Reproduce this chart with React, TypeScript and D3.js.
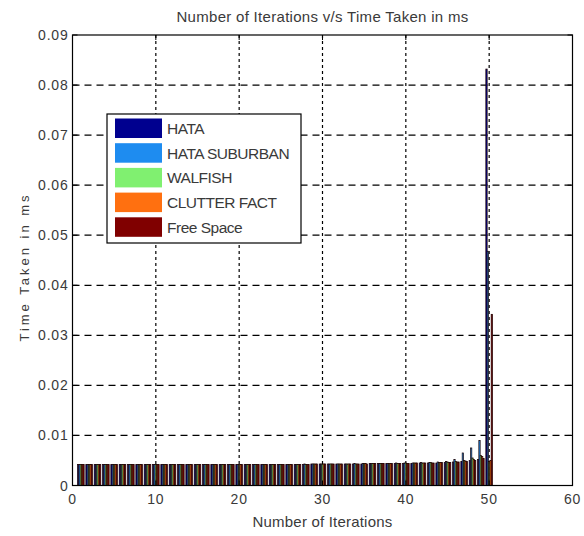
import React from "react";
import * as d3 from "d3";

const iterations = d3.range(1, 51);
const seriesNames = ["HATA", "HATA SUBURBAN", "WALFISH", "CLUTTER FACT", "Free Space"];
const seriesColors = ["#00008f", "#1e8cf0", "#80f070", "#ff7010", "#800000"];

const hata = [
  0.0042, 0.0042, 0.0042, 0.0042, 0.0042, 0.0042, 0.0042, 0.0042, 0.0042, 0.0042,
  0.0042, 0.0042, 0.0042, 0.0042, 0.0042, 0.0042, 0.0042, 0.0042, 0.0042, 0.0042,
  0.0042, 0.0042, 0.0042, 0.0042, 0.0042, 0.0042, 0.0042, 0.0042, 0.0043, 0.0043,
  0.0043, 0.0043, 0.0043, 0.0043, 0.0043, 0.0044, 0.0044, 0.0044, 0.0044, 0.0044,
  0.0044, 0.0045, 0.0045, 0.0045, 0.0046, 0.0047, 0.0048, 0.005, 0.0052, 0.0832,
];
const hataSuburban = [
  0.0042, 0.0042, 0.0042, 0.0042, 0.0042, 0.0042, 0.0042, 0.0042, 0.0042, 0.0042,
  0.0042, 0.0042, 0.0042, 0.0042, 0.0042, 0.0042, 0.0042, 0.0042, 0.0042, 0.0042,
  0.0042, 0.0042, 0.0042, 0.0042, 0.0042, 0.0042, 0.0042, 0.0043, 0.0043, 0.0043,
  0.0043, 0.0043, 0.0043, 0.0044, 0.0044, 0.0044, 0.0044, 0.0044, 0.0045, 0.0045,
  0.0045, 0.0046, 0.0046, 0.0047, 0.0048, 0.0052, 0.0065, 0.0075, 0.009, 0.0468,
];
const walfish = [
  0.0042, 0.0042, 0.0042, 0.0042, 0.0042, 0.0042, 0.0042, 0.0042, 0.0042, 0.0042,
  0.0042, 0.0042, 0.0042, 0.0042, 0.0042, 0.0042, 0.0042, 0.0042, 0.0042, 0.0042,
  0.0042, 0.0042, 0.0042, 0.0042, 0.0042, 0.0042, 0.0042, 0.0042, 0.0043, 0.0043,
  0.0043, 0.0043, 0.0043, 0.0043, 0.0044, 0.0044, 0.0044, 0.0044, 0.0044, 0.0045,
  0.0045, 0.0045, 0.0046, 0.0046, 0.0047, 0.0048, 0.005, 0.0055, 0.006, 0.0048,
];
const clutterFact = [
  0.0042, 0.0042, 0.0042, 0.0042, 0.0042, 0.0042, 0.0042, 0.0042, 0.0042, 0.0042,
  0.0042, 0.0042, 0.0042, 0.0042, 0.0042, 0.0042, 0.0042, 0.0042, 0.0042, 0.0042,
  0.0042, 0.0042, 0.0042, 0.0042, 0.0042, 0.0042, 0.0042, 0.0042, 0.0043, 0.0043,
  0.0043, 0.0043, 0.0043, 0.0043, 0.0044, 0.0044, 0.0044, 0.0044, 0.0044, 0.0044,
  0.0045, 0.0045, 0.0045, 0.0046, 0.0046, 0.0047, 0.0049, 0.0052, 0.0058, 0.005,
];
const freeSpace = [
  0.0042, 0.0042, 0.0042, 0.0042, 0.0042, 0.0042, 0.0042, 0.0042, 0.0042, 0.0042,
  0.0042, 0.0042, 0.0042, 0.0042, 0.0042, 0.0042, 0.0042, 0.0042, 0.0042, 0.0042,
  0.0042, 0.0042, 0.0042, 0.0042, 0.0042, 0.0042, 0.0042, 0.0042, 0.0043, 0.0043,
  0.0043, 0.0043, 0.0043, 0.0043, 0.0043, 0.0044, 0.0044, 0.0044, 0.0044, 0.0044,
  0.0045, 0.0045, 0.0045, 0.0046, 0.0046, 0.0047, 0.0048, 0.005, 0.0054, 0.0342,
];
const allSeries = [hata, hataSuburban, walfish, clutterFact, freeSpace];

const xTicks = [0, 10, 20, 30, 40, 50, 60];
const yTicks = [0, 0.01, 0.02, 0.03, 0.04, 0.05, 0.06, 0.07, 0.08, 0.09];

const titleText = "Number of Iterations v/s Time Taken in ms";
const xLabelText = "Number of Iterations";
const yLabelText = "Time Taken in ms";

export default function App() {
  const W = 584;
  const H = 536;
  const left = 72.5;
  const right = 572.5;
  const top = 35;
  const bottom = 485.5;

  const x = d3.scaleLinear().domain([0, 60]).range([left, right]);
  const y = d3.scaleLinear().domain([0, 0.09]).range([bottom, top]);

  const groupWidth = 0.8;
  const nS = allSeries.length;
  const barW = groupWidth / nS;

  const font = "'Liberation Sans', Arial, sans-serif";
  const textFill = "#3a3a3a";

  const legendX = 107;
  const legendY = 114;
  const legendW = 194;
  const legendH = 129;
  const rowH = 24.7;

  return (
    <svg
      width={W}
      height={H}
      style={{ position: "absolute", left: 0, top: 0, background: "#fff" }}
      fontFamily={font}
    >
      <rect x={0} y={0} width={W} height={H} fill="#fff" />
      {/* grid */}
      {xTicks.slice(1, -1).map((t) => (
        <line
          key={"gx" + t}
          x1={x(t)}
          x2={x(t)}
          y1={top}
          y2={bottom}
          stroke="#000"
          strokeWidth={1.2}
          strokeDasharray="3,3"
        />
      ))}
      {yTicks.slice(1, -1).map((t) => (
        <line
          key={"gy" + t}
          x1={left}
          x2={right}
          y1={y(t)}
          y2={y(t)}
          stroke="#000"
          strokeWidth={1.2}
          strokeDasharray="7,5"
        />
      ))}
      {/* bars */}
      {allSeries.map((vals, si) =>
        vals.map((v, i) => {
          const it = iterations[i];
          const x0 = x(it - groupWidth / 2 + si * barW);
          const x1 = x(it - groupWidth / 2 + (si + 1) * barW);
          return (
            <rect
              key={si + "-" + i}
              x={x0}
              y={y(v)}
              width={x1 - x0}
              height={y(0) - y(v)}
              fill={seriesColors[si]}
              stroke="#1a0000"
              strokeWidth={0.7}
            />
          );
        })
      )}
      {/* axes box */}
      <rect x={left} y={top} width={right - left} height={bottom - top} fill="none" stroke="#000" strokeWidth={1.2} />
      {xTicks.map((t) => (
        <g key={"xt" + t}>
          <line x1={x(t)} x2={x(t)} y1={bottom} y2={bottom - 5} stroke="#000" />
          <line x1={x(t)} x2={x(t)} y1={top} y2={top + 5} stroke="#000" />
          <text x={x(t)} y={bottom + 18} textAnchor="middle" fontSize={14} fill={textFill} letterSpacing={0.8}>
            {t}
          </text>
        </g>
      ))}
      {yTicks.map((t) => (
        <g key={"yt" + t}>
          <line x1={left} x2={left + 5} y1={y(t)} y2={y(t)} stroke="#000" />
          <line x1={right} x2={right - 5} y1={y(t)} y2={y(t)} stroke="#000" />
          <text x={left - 4} y={y(t) + 5} textAnchor="end" fontSize={14} fill={textFill} letterSpacing={0.8}>
            {d3.format("~g")(t)}
          </text>
        </g>
      ))}
      {/* title and labels */}
      <text x={(left + right) / 2} y={22} textAnchor="middle" fontSize={15} fill={textFill} letterSpacing={0.3}>
        {titleText}
      </text>
      <text x={(left + right) / 2} y={527} textAnchor="middle" fontSize={15} fill={textFill} letterSpacing={0.2}>
        {xLabelText}
      </text>
      <text
        transform={`translate(29, 267) rotate(-90)`}
        textAnchor="middle"
        fontSize={13}
        fill={textFill}
        letterSpacing={3}
      >
        {yLabelText}
      </text>
      {/* legend */}
      <rect x={legendX} y={legendY} width={legendW} height={legendH} fill="#fff" stroke="#000" strokeWidth={1.2} />
      {seriesNames.map((name, i) => (
        <g key={name}>
          <rect
            x={legendX + 8}
            y={legendY + 4.5 + i * rowH}
            width={47}
            height={19.5}
            fill={seriesColors[i]}
          />
          <text
            x={legendX + 60}
            y={legendY + 20 + i * rowH}
            fontSize={15.5}
            fill={textFill}
            letterSpacing={-0.5}
          >
            {name}
          </text>
        </g>
      ))}
    </svg>
  );
}
